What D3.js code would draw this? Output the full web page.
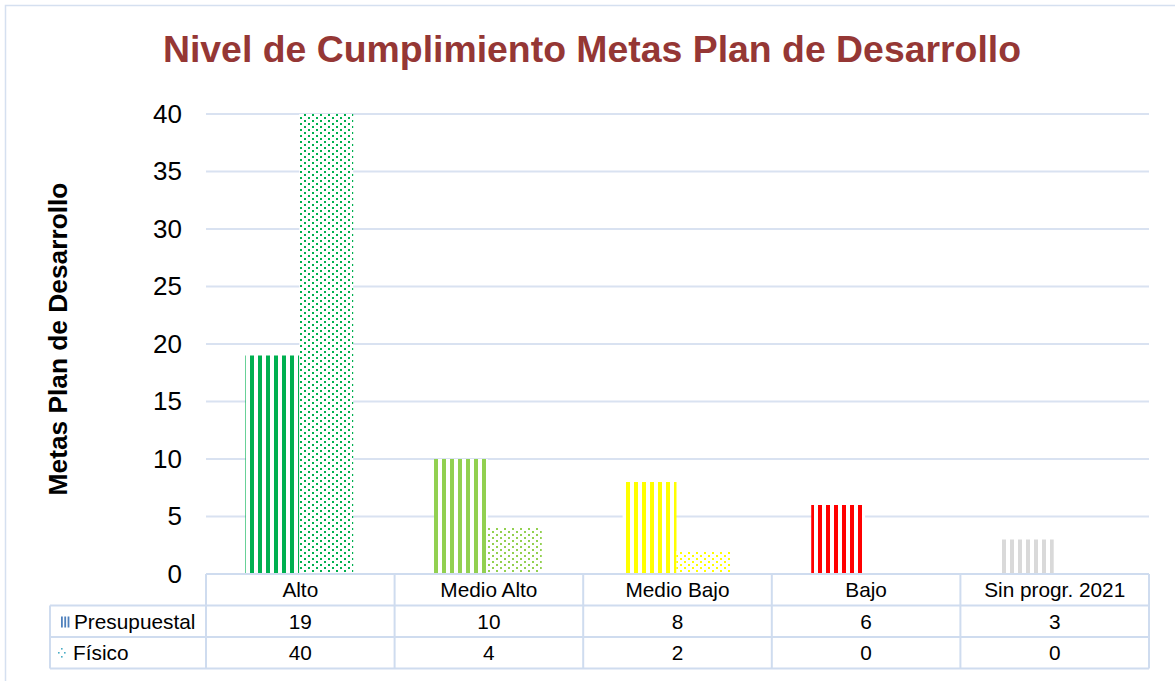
<!DOCTYPE html>
<html>
<head>
<meta charset="utf-8">
<script src="https://cdn.jsdelivr.net/npm/d3@7"></script>
<style>
  html, body { margin: 0; padding: 0; background: #ffffff; }
  svg { display: block; }
  text { font-family: "Liberation Sans", Arial, sans-serif; }
</style>
</head>
<body>
<svg id="chart" width="1175" height="681"></svg>
<script>
// ---- data ----
const categories = ["Alto", "Medio Alto", "Medio Bajo", "Bajo", "Sin progr. 2021"];
const seriesNames = ["Presupuestal", "Físico"];
const presupuestal = [19, 10, 8, 6, 3];
const fisico = [40, 4, 2, 0, 0];
const pointColors = ["#00b050", "#92d050", "#ffff00", "#ff0000", "#d9d9d9"];
const yTicks = [0, 5, 10, 15, 20, 25, 30, 35, 40];
const titleText = "Nivel de Cumplimiento Metas Plan de Desarrollo";
const yTitleText = "Metas Plan de Desarrollo";

// ---- layout ----
const W = 1175, H = 681;
const plot = { left: 206, right: 1149, top: 114, bottom: 574 };
const rowH = 31.5;
const tableLeft = 50;
const gridColor = "#d9e2f1";
const tableColor = "#cfdcef";

const svg = d3.select("#chart");
const defs = svg.append("defs");

// patterns per colour
pointColors.forEach((c, i) => {
  const ps = defs.append("pattern").attr("id", "stripe" + i)
    .attr("patternUnits", "userSpaceOnUse").attr("x", 2).attr("y", 0)
    .attr("width", 8).attr("height", 8);
  ps.append("rect").attr("width", 8).attr("height", 8).attr("fill", "#fff");
  ps.append("rect").attr("x", 0).attr("width", 4).attr("height", 8).attr("fill", c);

  const pd = defs.append("pattern").attr("id", "dots" + i)
    .attr("patternUnits", "userSpaceOnUse").attr("x", 0).attr("y", 0)
    .attr("width", 8).attr("height", 6);
  pd.append("rect").attr("width", 8).attr("height", 6).attr("fill", "#fff");
  pd.append("rect").attr("x", 0).attr("y", 0).attr("width", 2).attr("height", 2).attr("fill", c);
  pd.append("rect").attr("x", 4).attr("y", 3).attr("width", 2).attr("height", 2).attr("fill", c);
});

// outer chart border
svg.append("rect").attr("x", 5.5).attr("y", 5.5).attr("width", W).attr("height", H)
  .attr("fill", "none").attr("stroke", "#d5e0f0").attr("stroke-width", 1.5);

// scales
const x = d3.scaleBand().domain(categories).range([plot.left, plot.right]);
const x1 = d3.scaleBand().domain(seriesNames).range([0, x.bandwidth()]).paddingOuter(0.75).paddingInner(0);
const y = d3.scaleLinear().domain([0, 40]).range([plot.bottom, plot.top]);

// gridlines
svg.append("g").selectAll("line").data(yTicks.filter(t => t > 0)).join("line")
  .attr("x1", plot.left).attr("x2", plot.right)
  .attr("y1", d => y(d)).attr("y2", d => y(d))
  .attr("stroke", gridColor).attr("stroke-width", 2);

// y axis (labels only)
const yAxis = d3.axisLeft(y).tickValues(yTicks).tickSize(0).tickPadding(0);
const gy = svg.append("g").attr("transform", `translate(${plot.left - 24},0)`).call(yAxis);
gy.select(".domain").remove();
gy.selectAll("text").attr("font-size", 26).attr("fill", "#000")
  .attr("font-family", "Liberation Sans, Arial, sans-serif");

// bars
const values = [presupuestal, fisico];
const patternIds = ["stripe", "dots"];
seriesNames.forEach((s, si) => {
  svg.append("g").selectAll("rect").data(categories).join("rect")
    .attr("x", d => x(d) + x1(s) - 1)
    .attr("width", x1.bandwidth())
    .attr("y", (d, i) => y(values[si][i]))
    .attr("height", (d, i) => y(0) - y(values[si][i]))
    .attr("fill", (d, i) => `url(#${patternIds[si]}${i})`);
});

// title
svg.append("text").attr("x", 592).attr("y", 62).attr("text-anchor", "middle")
  .attr("font-size", 37.4).attr("font-weight", "bold").attr("fill", "#953735")
  .text(titleText);

// y title
svg.append("text").attr("transform", `translate(67,${(plot.top + plot.bottom) / 2 - 5}) rotate(-90)`)
  .attr("text-anchor", "middle").attr("font-size", 26.3).attr("font-weight", "bold").attr("fill", "#000")
  .text(yTitleText);

// ---- data table ----
const tb = svg.append("g");
const r0 = plot.bottom, r1 = r0 + rowH, r2 = r1 + rowH, r3 = r2 + rowH;
const bounds = categories.map(c => x(c)).concat([plot.right]);
// horizontal lines
tb.append("line").attr("x1", plot.left).attr("x2", plot.right).attr("y1", r0).attr("y2", r0);
[r1, r2, r3].forEach(ry => tb.append("line").attr("x1", tableLeft).attr("x2", plot.right).attr("y1", ry).attr("y2", ry));
// vertical lines
bounds.forEach(bx => tb.append("line").attr("x1", bx).attr("x2", bx).attr("y1", r0).attr("y2", r3));
tb.append("line").attr("x1", tableLeft).attr("x2", tableLeft).attr("y1", r1).attr("y2", r3);
tb.selectAll("line").attr("stroke", tableColor).attr("stroke-width", 2);

// category labels
tb.append("g").selectAll("text").data(categories).join("text")
  .attr("x", d => x(d) + x.bandwidth() / 2).attr("y", r0 + rowH / 2 + 7.5)
  .attr("text-anchor", "middle").attr("font-size", 20.8).attr("fill", "#000").text(d => d);
// values
[presupuestal, fisico].forEach((vals, si) => {
  const ry = si === 0 ? r1 : r2;
  tb.append("g").selectAll("text").data(vals).join("text")
    .attr("x", (d, i) => x(categories[i]) + x.bandwidth() / 2).attr("y", ry + rowH / 2 + 7.5)
    .attr("text-anchor", "middle").attr("font-size", 20.8).attr("fill", "#000").text(d => d);
  tb.append("text").attr("x", si === 0 ? 74 : 73).attr("y", ry + rowH / 2 + 7.5)
    .attr("font-size", 20.8).attr("fill", "#000").text(seriesNames[si]);
});
// legend keys
const keyColor = "#4f81bd";
[0, 1, 2].forEach(k => tb.append("rect").attr("x", 61 + k * 3.3).attr("y", r1 + 11).attr("width", 1.8).attr("height", 11).attr("fill", keyColor));
[[61, r2 + 11], [58, r2 + 15], [64, r2 + 15], [61, r2 + 19]].forEach(p =>
  tb.append("rect").attr("x", p[0]).attr("y", p[1]).attr("width", 1.6).attr("height", 1.6).attr("fill", "#4aacc6"));
</script>
</body>
</html>
